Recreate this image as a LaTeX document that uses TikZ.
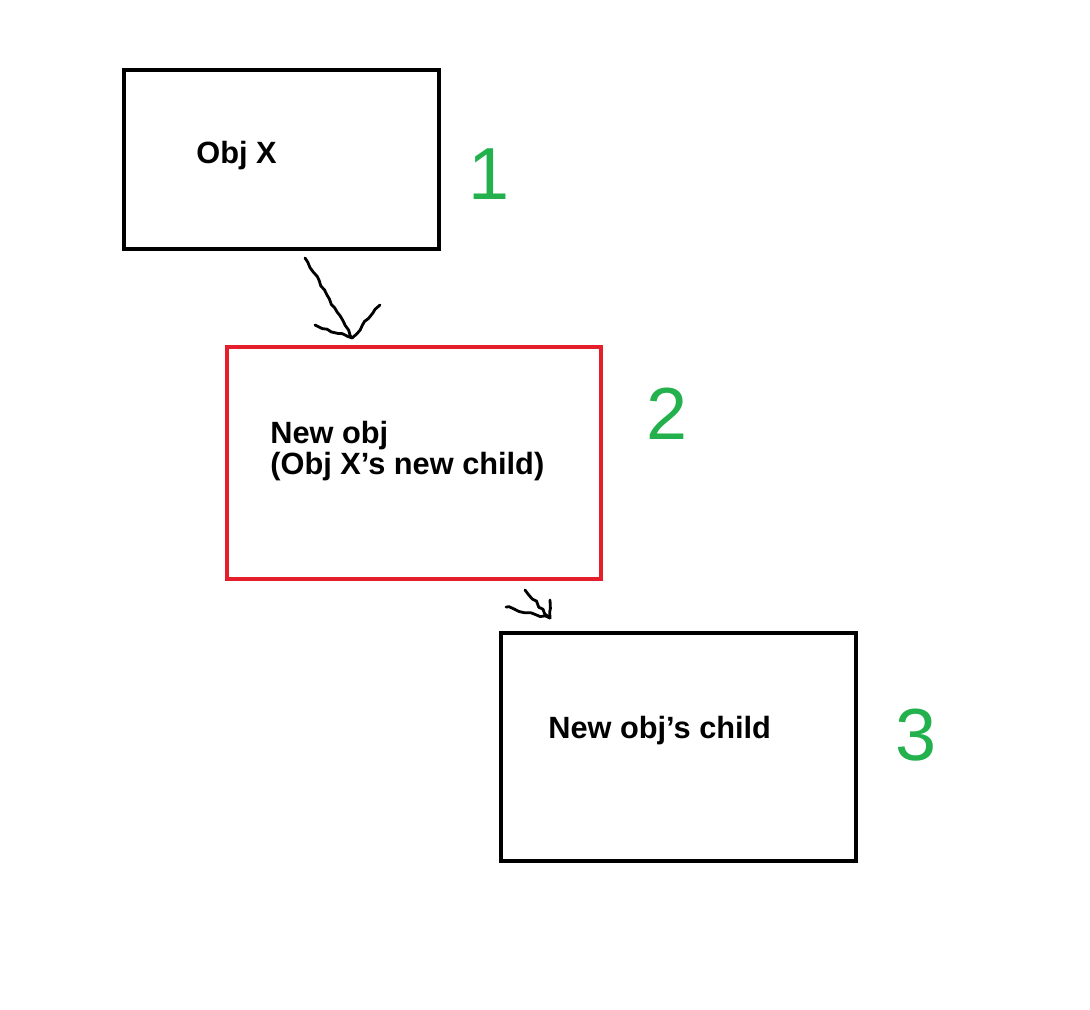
\documentclass[tikz,border=0pt]{standalone}
\usepackage{fontspec}
\setmainfont{Liberation Sans}
\usetikzlibrary{decorations.pathmorphing}
\definecolor{paintRed}{HTML}{E41E2B}
\definecolor{paintGreen}{HTML}{22B14C}

\begin{document}
\begin{tikzpicture}[
    x=0.02cm, y=-0.02cm,
    every node/.style={inner sep=0pt},
    objbox/.style={draw=black, line width=2.3pt, fill=white},
    newbox/.style={draw=paintRed, line width=2pt, fill=white},
    objtext/.style={font=\bfseries\fontsize{17.5}{18.2}\selectfont, align=left, anchor=base west},
    stepnum/.style={font=\fontsize{42}{42}\selectfont, text=paintGreen, anchor=base},
    hand/.style={line width=1.6pt, line join=round, line cap=round,
      decorate, decoration={random steps, segment length=3pt, amplitude=0.7pt}}
  ]
    \useasboundingbox (0,0) rectangle (1090,1010);
    \pgfmathsetseed{7}

    % boxes
    \node[objbox, minimum width=6.3cm, minimum height=3.58cm] (objx) at (281.5,159.5) {};
    \node[newbox, minimum width=7.48cm, minimum height=4.64cm] (newobj) at (414,463) {};
    \node[objbox, minimum width=7.1cm, minimum height=4.56cm] (child) at (678.5,747) {};

    % texts
    \node[objtext] (objxtext) at (196,164) {Obj X};
    \node[objtext] (newobjtext) at (270,475) {New obj\\(Obj X’s new child)};
    \node[objtext] (childtext) at (548,738) {New obj’s child};

    % numbers
    \node[stepnum] (one) at (489,200) {1};
    \node[stepnum] (two) at (667,440) {2};
    \node[stepnum] (three) at (916,760) {3};

    % hand drawn arrows
    \coordinate (tailA) at (305,258);
    \coordinate (tipA) at (352,338);
    \coordinate (tailB) at (525,590);
    \coordinate (tipB) at (550,618);
    \draw[hand] (tailA) -- (tipA);
    \draw[hand] (tipA) -- ++(-37,-13);
    \draw[hand] (tipA) -- ++(28,-33);
    \draw[hand] (tailB) -- (tipB);
    \draw[hand] (tipB) -- ++(-44,-11);
    \draw[hand] (tipB) -- ++(0,-18);
\end{tikzpicture}
\end{document}
